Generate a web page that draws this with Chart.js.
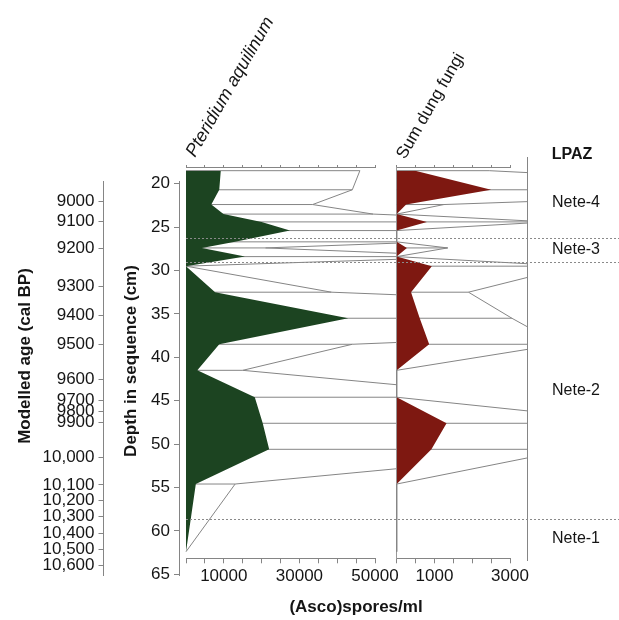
<!DOCTYPE html>
<html>
<head>
<meta charset="utf-8">
<script src="https://cdn.jsdelivr.net/npm/chart.js@4"></script>
<style>
  html, body { margin: 0; padding: 0; background: #fff; }
  #wrap { position: relative; width: 619px; height: 620px; overflow: hidden; }
  #wrap canvas { position: absolute; left: 0; top: 0; }
</style>
</head>
<body>
<div id="wrap">
  <canvas id="pterChart" width="619" height="620"></canvas>
  <canvas id="dungChart" width="619" height="620"></canvas>
  <canvas id="axisChart" width="619" height="620"></canvas>
  <canvas id="zoneChart" width="619" height="620"></canvas>
</div>
<script>
// Sample depths (cm) and counts per ml
const depths    = [18.5, 20.7, 22.4, 23.5, 24.4, 25.4, 26.7, 27.4, 28.4, 29.5, 32.5, 35.5, 38.5, 41.5, 44.6, 47.6, 50.6, 54.6, 62.4];
const pteridium = [9200, 8800, 6700, 9900, 20000, 27500, 13000, 4200, 15600, 0, 7700, 42900, 8800, 3000, 18200, 20300, 22000, 2600, 0];
const dungFungi = [490, 2500, 250, 0, 800, 0, 0, 270, 0, 930, 380, 610, 860, 0, 0, 1320, 920, 0, 0];
const EXAG = 5;   // exaggeration curve factor

// Axis ticks
const depthTicks = [20, 25, 30, 35, 40, 45, 50, 55, 60, 65];
const ageLabels = ['9000', '9100', '9200', '9300', '9400', '9500', '9600', '9700', '9800', '9900',
                   '10,000', '10,100', '10,200', '10,300', '10,400', '10,500', '10,600'];
const ageDepths = [22.07, 24.38, 27.44, 31.79, 35.21, 38.47, 42.50, 44.94, 46.19, 47.46,
                   51.52, 54.71, 56.52, 58.36, 60.28, 62.12, 63.93];
const pterTickLabels = [10000, 30000, 50000];
const dungTickLabels = [1000, 3000];

// Pollen zones
const zoneBounds = [26.2, 29.0, 58.6];
const zoneNames = ['Nete-4', 'Nete-3', 'Nete-2', 'Nete-1'];

// -------------------------------------------
// page layout (pixels)
const Y20 = 183.7, PX_PER_CM = 8.68;
const depthAt = py => 20 + (py - Y20) / PX_PER_CM;
const PANEL_TOP = 167, PANEL_BOTTOM = 558.3;
const P_LEFT = 186, P_RIGHT = 375, P_EDGE = 396.7;
const D_LEFT = 396.7, D_RIGHT = 510, D_EDGE = 527.7;

const FONT = '"Liberation Sans", Arial, sans-serif';
const GREY = '#858585';
const TEXT = '#151515';
Chart.defaults.font.family = FONT;
Chart.defaults.font.size = 17;
Chart.defaults.color = TEXT;

const baseOpts = {
  responsive: false,
  animation: false,
  devicePixelRatio: 1,
  events: [],
  plugins: { legend: { display: false }, tooltip: { enabled: false } }
};

function panelChart(id, values, o) {
  const exag = values.map(v => v * EXAG);
  const rungs = [];
  depths.forEach((d, i) => rungs.push({ x: 0, y: d }, { x: exag[i], y: d }, { x: null, y: d }));
  const clip = { left: 2, right: o.overflow, top: 5, bottom: 5 };

  return new Chart(document.getElementById(id), {
    type: 'line',
    data: {
      datasets: [
        // silhouette: fill only, so zero stretches stay unmarked
        { data: depths.map((d, i) => ({ x: values[i], y: d })), borderColor: 'rgba(0,0,0,0)', backgroundColor: o.color,
          borderWidth: 1, fill: 'origin', pointRadius: 0, clip },
        { data: depths.map((d, i) => ({ x: exag[i], y: d })), borderColor: GREY, borderWidth: 1,
          fill: false, pointRadius: 0, clip },
        { data: rungs, borderColor: GREY, borderWidth: 1, fill: false, pointRadius: 0, spanGaps: false, clip }
      ]
    },
    options: {
      ...baseOpts,
      indexAxis: 'y',
      layout: { padding: { left: o.left, right: 619 - o.right, top: PANEL_TOP - 2, bottom: 620 - PANEL_BOTTOM - 29 } },
      scales: {
        x: {
          type: 'linear', position: 'bottom', min: 0, max: o.max,
          ticks: { stepSize: o.step, autoSkip: false, maxRotation: 0, padding: 3,
                   callback: v => o.labels.includes(v) ? String(v) : '' },
          grid: { drawOnChartArea: false, tickLength: 5, color: GREY },
          border: { color: GREY },
          afterFit: s => { s.height = 29; }
        },
        xTop: {
          type: 'linear', axis: 'x', position: 'top', display: true, min: 0, max: o.max,
          ticks: { stepSize: o.step, display: false },
          grid: { drawOnChartArea: false, tickLength: 2, color: GREY },
          border: { color: GREY },
          afterFit: s => { s.height = 2; }
        },
        y: {
          type: 'linear', reverse: true, min: depthAt(PANEL_TOP), max: depthAt(PANEL_BOTTOM),
          display: o.zeroLine,
          ticks: { display: false },
          grid: { display: false },
          border: { color: '#999', dash: [1, 2] },
          afterFit: s => { s.width = 0; }
        }
      }
    }
  });
}

panelChart('pterChart', pteridium, {
  color: '#1c4421', left: P_LEFT, right: P_RIGHT, max: 50000, step: 5000,
  labels: pterTickLabels, overflow: P_EDGE - P_RIGHT, zeroLine: false
});
panelChart('dungChart', dungFungi, {
  color: '#7e1811', left: D_LEFT, right: D_RIGHT, max: 3000, step: 500,
  labels: dungTickLabels, overflow: D_EDGE - D_RIGHT, zeroLine: true
});

// Depth + modelled age axes
const axisTop = 181, axisBottom = 575.5;
new Chart(document.getElementById('axisChart'), {
  type: 'line',
  data: { datasets: [] },
  options: {
    ...baseOpts,
    layout: { padding: { left: 0, right: 619 - 190, top: axisTop, bottom: 620 - axisBottom } },
    scales: {
      x: { display: false, min: 0, max: 1 },
      depth: {
        type: 'linear', axis: 'y', position: 'left', weight: 0, reverse: true,
        min: depthAt(axisTop), max: depthAt(axisBottom),
        afterBuildTicks: s => { s.ticks = depthTicks.map(v => ({ value: v })); },
        afterFit: s => { s.width = 75.5; },
        ticks: { autoSkip: false, padding: 4, callback: v => String(v) },
        grid: { drawOnChartArea: false, tickLength: 5, color: GREY },
        border: { color: GREY }
      },
      age: {
        type: 'linear', axis: 'y', position: 'left', weight: 1, reverse: true,
        min: depthAt(axisTop), max: depthAt(axisBottom),
        afterBuildTicks: s => { s.ticks = ageDepths.map(v => ({ value: v })); },
        afterFit: s => { s.width = 103.5; },
        ticks: { autoSkip: false, padding: 4, callback: (v, i) => ageLabels[i] },
        grid: { drawOnChartArea: false, tickLength: 5, color: GREY },
        border: { color: GREY }
      }
    }
  }
});

// Zone lines and labels, plus headings
const zonePlugin = {
  id: 'zones',
  afterDraw(chart) {
    const ctx = chart.ctx, y = chart.scales.y;
    ctx.save();
    ctx.strokeStyle = '#8a8a8a';
    ctx.lineWidth = 1;
    ctx.setLineDash([2, 2]);
    zoneBounds.forEach(b => {
      const py = Math.round(y.getPixelForValue(b)) + 0.5;
      ctx.beginPath();
      ctx.moveTo(P_LEFT, py);
      ctx.lineTo(chart.width, py);
      ctx.stroke();
    });
    ctx.setLineDash([]);
    const edges = [depthAt(PANEL_TOP), ...zoneBounds, depthAt(PANEL_BOTTOM)];
    ctx.fillStyle = TEXT;
    ctx.font = '16px ' + FONT;
    ctx.textAlign = 'center';
    ctx.textBaseline = 'middle';
    zoneNames.forEach((n, i) => {
      const py = (y.getPixelForValue(edges[i]) + y.getPixelForValue(edges[i + 1])) / 2;
      ctx.fillText(n, 576, py);
    });
    ctx.restore();
  }
};

const textPlugin = {
  id: 'texts',
  afterDraw(chart) {
    const ctx = chart.ctx;
    const put = (txt, font, x, y, angle, align, base) => {
      ctx.save();
      ctx.translate(x, y);
      ctx.rotate(angle * Math.PI / 180);
      ctx.font = font + ' ' + FONT;
      ctx.fillStyle = TEXT;
      ctx.textAlign = align;
      ctx.textBaseline = base;
      ctx.fillText(txt, 0, 0);
      ctx.restore();
    };
    put('Modelled age (cal BP)', 'bold 17px', 25, 356, -90, 'center', 'middle');
    put('Depth in sequence (cm)', 'bold 17px', 131, 361, -90, 'center', 'middle');
    put('Pteridium aquilinum', 'italic 18px', 195, 158, -60, 'left', 'alphabetic');
    put('Sum dung fungi', '17px', 405, 160, -60, 'left', 'alphabetic');
    put('LPAZ', 'bold 16px', 572, 155, 0, 'center', 'middle');
    put('(Asco)spores/ml', 'bold 17px', 356, 607, 0, 'center', 'middle');
  }
};

new Chart(document.getElementById('zoneChart'), {
  type: 'line',
  data: { datasets: [] },
  options: {
    ...baseOpts,
    layout: { padding: { left: D_EDGE, right: 0, top: 157, bottom: 620 - 560 } },
    scales: {
      x: { display: false, min: 0, max: 1 },
      y: {
        type: 'linear', position: 'left', reverse: true, min: depthAt(157), max: depthAt(560),
        ticks: { display: false },
        grid: { display: false },
        border: { color: GREY },
        afterFit: s => { s.width = 0; }
      }
    }
  },
  plugins: [zonePlugin, textPlugin]
});
</script>
</body>
</html>
